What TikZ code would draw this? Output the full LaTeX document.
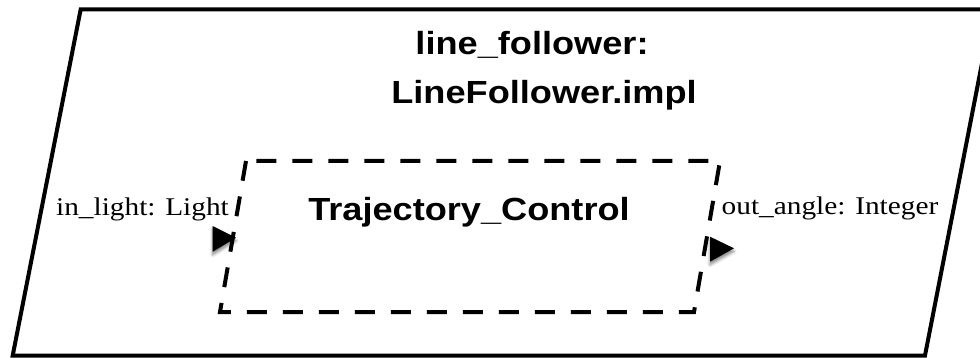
\documentclass[tikz,border=0pt]{standalone}
\usepackage{fontspec}
\setmainfont{Liberation Serif}
\newfontfamily\headfont{Liberation Sans}
\usetikzlibrary{shadows.blur}
\begin{document}
\begin{tikzpicture}[x=1pt,y=-1pt,
  headtext/.style={font=\headfont\bfseries\fontsize{32}{38}\selectfont, xscale=1.13, anchor=base, inner sep=0pt},
  porttext/.style={font=\fontsize{25.5}{30}\selectfont, xscale=1.15, anchor=base, inner sep=0pt},
  outerframe/.style={line width=4pt, line join=miter},
  innerframe/.style={line width=4pt, dash pattern=on 20pt off 16pt},
  porttip/.style={fill=black, blur shadow={shadow xshift=0pt, shadow yshift=-3pt, shadow blur radius=3pt, shadow opacity=50}}
]
\useasboundingbox (0,0) rectangle (980,358);
\clip (0,0) rectangle (980,358);

% system: line_follower
\coordinate (oTL) at (80.7,9.3);
\coordinate (oTR) at (992.5,9.3);
\coordinate (oBR) at (925,355.5);
\coordinate (oBL) at (12.7,355.5);
\draw[outerframe] (oTL) -- (oTR) -- (oBR) -- (oBL) -- cycle;

% process: Trajectory_Control
\coordinate (iTL) at (246,161);
\coordinate (iTR) at (720,161);
\coordinate (iBR) at (694,312);
\coordinate (iBL) at (220,312);
\draw[innerframe] (iTL) -- (iBL) -- (iBR) -- (iTR) -- cycle;

% ports
\coordinate (inA) at (212.7,226);
\coordinate (inB) at (212.7,251.7);
\coordinate (inC) at (236,237.7);
\fill[porttip] (inA) -- (inB) -- (inC) -- cycle;
\coordinate (outA) at (710,236.7);
\coordinate (outB) at (710,261.7);
\coordinate (outC) at (734,248.3);
\fill[porttip] (outA) -- (outB) -- (outC) -- cycle;

% labels
\node[headtext] (title1) at (532,55) {line\_follower:};
\node[headtext] (title2) at (544,104) {LineFollower.impl};
\node[headtext] (comp) at (469,221) {Trajectory\_Control};
\node[porttext] (inlbl) at (142.5,215.7) {in\_light: Light};
\node[porttext] (outlbl) at (830,215) {out\_angle: Integer};
\end{tikzpicture}
\end{document}
